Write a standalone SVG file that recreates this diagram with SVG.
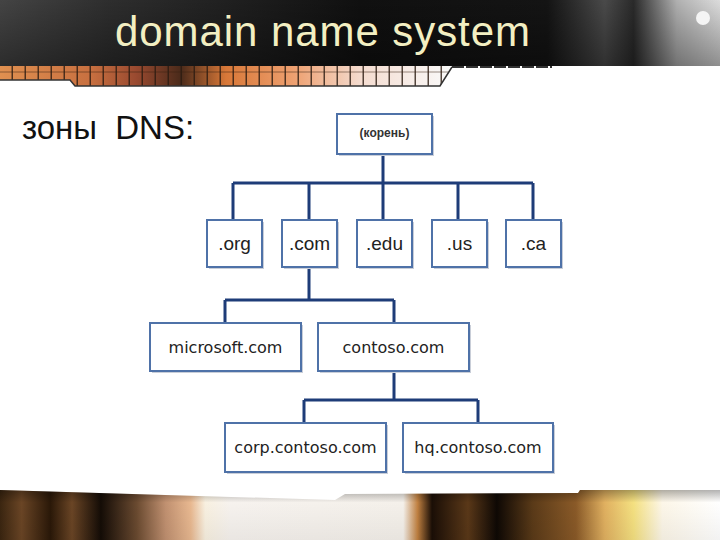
<svg xmlns="http://www.w3.org/2000/svg" width="720" height="540" viewBox="0 0 720 540">
  <defs>
    <linearGradient id="hdr" x1="0" y1="0" x2="1" y2="0">
      <stop offset="0" stop-color="#444"/>
      <stop offset="0.15" stop-color="#2e2e2e"/>
      <stop offset="0.5" stop-color="#101010"/>
      <stop offset="0.76" stop-color="#141414"/>
      <stop offset="0.84" stop-color="#4a4a4a"/>
      <stop offset="0.88" stop-color="#2a2a2a"/>
      <stop offset="0.94" stop-color="#b0b0b0"/>
      <stop offset="1" stop-color="#dcdcdc"/>
    </linearGradient>
    <linearGradient id="hdrv" x1="0" y1="0" x2="0" y2="1">
      <stop offset="0" stop-color="#000" stop-opacity="0"/>
      <stop offset="1" stop-color="#000" stop-opacity="0.35"/>
    </linearGradient>
    <linearGradient id="strip" x1="0" y1="0" x2="1" y2="0">
      <stop offset="0" stop-color="#e09050"/>
      <stop offset="0.2" stop-color="#c87040"/>
      <stop offset="0.3" stop-color="#9a4a30"/>
      <stop offset="0.4" stop-color="#4a2a1a"/>
      <stop offset="0.5" stop-color="#d87838"/>
      <stop offset="0.65" stop-color="#eea070"/>
      <stop offset="0.8" stop-color="#f4dcd0"/>
      <stop offset="1" stop-color="#fafafa"/>
    </linearGradient>
    <pattern id="grid" x="0" y="0" width="13" height="30" patternUnits="userSpaceOnUse">
      <rect x="11.5" y="0" width="1.5" height="30" fill="#2a1a10" fill-opacity="0.8"/>
    </pattern>
    <linearGradient id="bottom" x1="0" y1="0" x2="1" y2="0">
      <stop offset="0" stop-color="#3a2510"/>
      <stop offset="0.03" stop-color="#6a4525"/>
      <stop offset="0.07" stop-color="#2a1808"/>
      <stop offset="0.1" stop-color="#6a4525"/>
      <stop offset="0.14" stop-color="#140c06"/>
      <stop offset="0.19" stop-color="#6a4a30"/>
      <stop offset="0.23" stop-color="#c09070"/>
      <stop offset="0.265" stop-color="#e8b890"/>
      <stop offset="0.285" stop-color="#f8f0e0"/>
      <stop offset="0.32" stop-color="#f6f2ee"/>
      <stop offset="0.56" stop-color="#f4f0ea"/>
      <stop offset="0.58" stop-color="#c08040"/>
      <stop offset="0.6" stop-color="#1a0e06"/>
      <stop offset="0.65" stop-color="#5a3818"/>
      <stop offset="0.69" stop-color="#0e0804"/>
      <stop offset="0.74" stop-color="#5a3a18"/>
      <stop offset="0.8" stop-color="#8a5a28"/>
      <stop offset="0.84" stop-color="#e0b060"/>
      <stop offset="0.88" stop-color="#f4e080"/>
      <stop offset="0.92" stop-color="#fcf6e8"/>
      <stop offset="1" stop-color="#ffffff"/>
    </linearGradient>
    <linearGradient id="bottomv" x1="0" y1="0" x2="0" y2="1">
      <stop offset="0" stop-color="#000" stop-opacity="0.3"/>
      <stop offset="0.25" stop-color="#000" stop-opacity="0"/>
      <stop offset="1" stop-color="#000" stop-opacity="0.05"/>
    </linearGradient>
  </defs>
  <style>
    .box { fill: #ffffff; stroke: #4f72a8; stroke-width: 2; }
    .shadow { fill: #c9ced8; }
    .link { fill: none; stroke: #1e3c78; stroke-width: 3; }
    .t1 { font-family: "Liberation Sans", Arial, sans-serif; font-size: 19px; fill: #222; text-anchor: middle; }
    .t2 { font-family: "DejaVu Sans", sans-serif; font-size: 16px; fill: #222; text-anchor: middle; }
    .troot { font-family: "Liberation Sans", Arial, sans-serif; font-size: 12px; font-weight: bold; fill: #333; text-anchor: middle; }
  </style>

  <rect x="0" y="0" width="720" height="540" fill="#ffffff"/>

  <!-- header banner -->
  <g id="header">
    <rect x="0" y="0" width="720" height="66" fill="url(#hdr)"/>
    <rect x="0" y="0" width="720" height="66" fill="url(#hdrv)"/>
    <circle cx="703" cy="18" r="7" fill="#f4f4f4"/>
    <polygon points="0,66 452,66 440,86 75,86 70,80 0,80" fill="url(#strip)"/>
    <polygon points="0,66 452,66 440,86 75,86 70,80 0,80" fill="url(#grid)"/>
    <line x1="0" y1="72" x2="448" y2="72" stroke="#3a2010" stroke-width="1" stroke-opacity="0.5"/>
    <polyline points="0,80 70,80 75,86 440,86 452,67" fill="none" stroke="#333" stroke-width="1.5"/>
    <line x1="452" y1="67" x2="552" y2="67" stroke="#333" stroke-width="2" stroke-dasharray="12,2"/>
    <text x="115" y="46" font-family="Liberation Sans, Arial, sans-serif" font-size="42" textLength="415" lengthAdjust="spacing" fill="#f3efc2">domain name system</text>
  </g>

  <!-- bottom photo band -->
  <g id="footer">
    <polygon points="0,490 335,500 345,494 578,493 580,490 720,490 720,540 0,540" fill="url(#bottom)"/>
    <polygon points="0,490 335,500 345,494 578,493 580,490 720,490 720,540 0,540" fill="url(#bottomv)"/>
  </g>

  <text x="22" y="139" font-family="Liberation Sans, Arial, sans-serif" font-size="33" word-spacing="9" fill="#111">зоны DNS:</text>

  <!-- connectors -->
  <g id="connectors">
    <path class="link" d="M383 154 V183 M233 183 H533 M233 183 V220 M309 183 V220 M383 183 V220 M458 183 V220 M533 183 V220"/>
    <path class="link" d="M309 267 V300 M225 300 H394 M225 300 V323 M394 300 V323"/>
    <path class="link" d="M394 371 V400 M304 400 H478 M304 400 V423 M478 400 V423"/>
  </g>

  <!-- nodes -->
  <g id="root">
    <rect class="shadow" x="339" y="116" width="95" height="40"/>
    <rect class="box" x="337" y="114" width="95" height="40"/>
    <text class="troot" x="384.5" y="137">(корень)</text>
  </g>
  <g id="org">
    <rect class="shadow" x="209" y="222" width="55" height="47"/>
    <rect class="box" x="207" y="220" width="55" height="47"/>
    <text class="t1" x="234.5" y="250">.org</text>
  </g>
  <g id="com">
    <rect class="shadow" x="284" y="222" width="55" height="47"/>
    <rect class="box" x="282" y="220" width="55" height="47"/>
    <text class="t1" x="309.5" y="250">.com</text>
  </g>
  <g id="edu">
    <rect class="shadow" x="359" y="222" width="55" height="47"/>
    <rect class="box" x="357" y="220" width="55" height="47"/>
    <text class="t1" x="384.5" y="250">.edu</text>
  </g>
  <g id="us">
    <rect class="shadow" x="434" y="222" width="55" height="47"/>
    <rect class="box" x="432" y="220" width="55" height="47"/>
    <text class="t1" x="459.5" y="250">.us</text>
  </g>
  <g id="ca">
    <rect class="shadow" x="508" y="222" width="55" height="47"/>
    <rect class="box" x="506" y="220" width="55" height="47"/>
    <text class="t1" x="533.5" y="250">.ca</text>
  </g>
  <g id="microsoft">
    <rect class="shadow" x="152" y="325" width="151" height="48"/>
    <rect class="box" x="150" y="323" width="151" height="48"/>
    <text class="t2" x="225.5" y="353">microsoft.com</text>
  </g>
  <g id="contoso">
    <rect class="shadow" x="320" y="325" width="151" height="48"/>
    <rect class="box" x="318" y="323" width="151" height="48"/>
    <text class="t2" x="393.5" y="353">contoso.com</text>
  </g>
  <g id="corp">
    <rect class="shadow" x="227" y="425" width="161" height="49"/>
    <rect class="box" x="225" y="423" width="161" height="49"/>
    <text class="t2" x="305.5" y="453">corp.contoso.com</text>
  </g>
  <g id="hq">
    <rect class="shadow" x="405" y="425" width="150" height="49"/>
    <rect class="box" x="403" y="423" width="150" height="49"/>
    <text class="t2" x="478" y="453">hq.contoso.com</text>
  </g>
</svg>
